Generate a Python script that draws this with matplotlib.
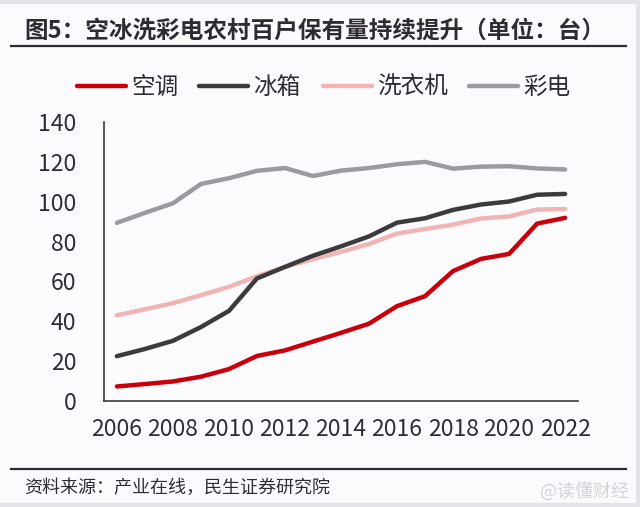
import matplotlib
matplotlib.use('Agg')
import matplotlib.pyplot as plt
from matplotlib.lines import Line2D
from matplotlib.patches import Rectangle

plt.rcParams['font.family'] = ['Noto Sans CJK SC', 'DejaVu Sans']

# Data (units per 100 rural households)
years = list(range(2006, 2023))
air_con = [7.3, 8.5, 9.8, 12.2, 16.0, 22.6, 25.4, 29.8, 34.2, 38.8, 47.6, 52.6, 65.2, 71.3, 73.8, 89.0, 91.9]
fridge = [22.5, 26.1, 30.2, 37.1, 45.2, 61.5, 67.3, 72.9, 77.6, 82.6, 89.5, 91.7, 95.9, 98.6, 100.1, 103.5, 103.9]
washer = [43.0, 46.0, 49.1, 53.1, 57.3, 62.6, 67.2, 71.2, 74.8, 78.8, 84.0, 86.3, 88.5, 91.6, 92.6, 96.1, 96.3]
color_tv = [89.4, 94.4, 99.2, 108.9, 111.8, 115.5, 116.9, 112.9, 115.6, 116.9, 118.8, 120.0, 116.6, 117.6, 117.8, 116.7, 116.2]

names = ['空调', '冰箱', '洗衣机', '彩电']
series = [air_con, fridge, washer, color_tv]
colors = ['#c9000b', '#3b3a3c', '#f1b4b4', '#9b9a9f']

x_ticks = list(range(2006, 2023, 2))
y_ticks = list(range(0, 141, 20))

W, H = 640, 507
fig = plt.figure(figsize=(W / 100, H / 100), dpi=100)
fig.patch.set_facecolor('#fbfbfd')

# axes box measured in pixels
ax = fig.add_axes([104 / W, 1 - 401 / H, 474 / W, 279 / H])
ax.set_facecolor('#fbfbfd')

# draw back to front so red sits on top
for name, vals, c in reversed(list(zip(names, series, colors))):
    ax.plot(years, vals, color=c, lw=3.2, solid_joinstyle='round', solid_capstyle='round')

ax.set_xlim(2005.54, 2022.46)
ax.set_ylim(0, 140)
ax.set_xticks(x_ticks)
ax.set_yticks(y_ticks)
ax.tick_params(length=0, labelsize=16.5, colors='#2f2b33')
ax.tick_params(axis='y', pad=20)
ax.tick_params(axis='x', pad=12)
for s in ['top', 'right']:
    ax.spines[s].set_visible(False)
for s in ['left', 'bottom']:
    ax.spines[s].set_color('#3a3a3a')
    ax.spines[s].set_linewidth(1.2)

# title and rules
fig.text(24 / W, 1 - 31 / H, '图5：空冰洗彩电农村百户保有量持续提升（单位：台）',
         fontsize=17, fontweight='bold', color='#2f2b33', va='center', ha='left')
fig.add_artist(Line2D([11 / W, 626 / W], [1 - 46 / H, 1 - 46 / H], color='#2f2b33', lw=1.6))
fig.add_artist(Line2D([11 / W, 626 / W], [1 - 469 / H, 1 - 469 / H], color='#2f2b33', lw=1.6))

# legend
leg_x = [77, 199, 323, 469]
for lx, name, c in zip(leg_x, names, colors):
    fig.add_artist(Line2D([lx / W, (lx + 49) / W], [1 - 86 / H, 1 - 86 / H], color=c, lw=3.2,
                          solid_capstyle='round'))
    fig.text((lx + 54) / W, 1 - 87 / H, name, fontsize=17, color='#2f2b33', va='center', ha='left')

# source + watermark
fig.text(24 / W, 1 - 488 / H, '资料来源：产业在线，民生证券研究院', fontsize=13,
         color='#2f2b33', va='center', ha='left')
fig.text(540 / W, 1 - 491 / H, '@读懂财经', fontsize=13, color='#d4d4d8', va='center', ha='left')

# faint frame strips
fig.add_artist(Rectangle((0, 1 - 3 / H), 1, 3 / H, transform=fig.transFigure, color='#e4e4e8'))
fig.add_artist(Rectangle((0, 0), 1, 4 / H, transform=fig.transFigure, color='#e4e4e8'))
fig.add_artist(Rectangle((1 - 4 / W, 0), 4 / W, 1, transform=fig.transFigure, color='#e4e4e8'))

fig.savefig('out.png', dpi=100, facecolor=fig.get_facecolor())
